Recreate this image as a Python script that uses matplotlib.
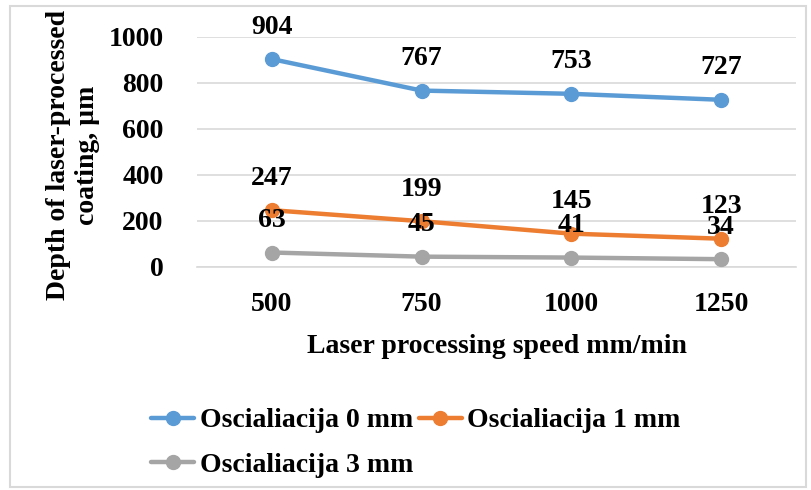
import matplotlib.pyplot as plt
from matplotlib.patches import Rectangle

speeds = ["500", "750", "1000", "1250"]
osc_0mm = [904, 767, 753, 727]
osc_1mm = [247, 199, 145, 123]
osc_3mm = [63, 45, 41, 34]
series_names = ["Oscialiacija 0 mm", "Oscialiacija 1 mm", "Oscialiacija 3 mm"]
colors = ["#5B9BD5", "#ED7D31", "#A5A5A5"]

plt.rcParams["font.family"] = ["Liberation Serif", "DejaVu Serif"]
plt.rcParams["font.weight"] = "bold"
FS = 20

W, H = 812, 490
fig = plt.figure(figsize=(W / 100, H / 100), dpi=100)

# outer frame
fig.patches.append(Rectangle((10 / W, 3 / H), 796 / W, 481 / H, transform=fig.transFigure,
                             fill=False, edgecolor="#D9D9D9", linewidth=1.5))

ax = fig.add_axes([197 / W, 1 - 267 / H, 599 / W, 230 / H])
x = range(len(speeds))
handles = []
for vals, name, c in zip([osc_0mm, osc_1mm, osc_3mm], series_names, colors):
    h, = ax.plot(x, vals, color=c, linewidth=3.2, marker="o", markersize=10, label=name,
                 solid_capstyle="round", zorder=3)
    handles.append(h)
    for xi, v in zip(x, vals):
        ax.annotate(str(v), (xi, v), xytext=(0, 23), textcoords="offset points",
                    ha="center", va="center", fontsize=FS, fontweight="bold", zorder=4)

ax.set_xlim(-0.5, len(speeds) - 0.5)
ax.set_ylim(0, 1000)
ax.set_yticks(range(0, 1001, 200))
ax.set_xticks(list(x))
ax.set_xticklabels(speeds)
ax.grid(axis="y", color="#D9D9D9", linewidth=1.2)
ax.set_axisbelow(True)
for s in ["top", "right", "left"]:
    ax.spines[s].set_visible(False)
ax.spines["bottom"].set_color("#D9D9D9")
ax.spines["bottom"].set_linewidth(1.2)
ax.tick_params(length=0, labelsize=FS)
ax.tick_params(axis="y", pad=24)
ax.tick_params(axis="x", pad=18)
for lbl in ax.get_xticklabels() + ax.get_yticklabels():
    lbl.set_fontweight("bold")

ax.set_xlabel("Laser processing speed mm/min", fontsize=FS, fontweight="bold", labelpad=12)
fig.text(73 / W, 1 - 155 / H, "Depth of laser-processed\ncoating, µm", rotation=90,
         ha="center", va="center", fontsize=FS, fontweight="bold", linespacing=1.2)

# row-major legend: 0 mm, 1 mm on the first row, 3 mm below
order = [0, 2, 1]
fig.legend([handles[i] for i in order], [series_names[i] for i in order],
           loc="upper left", bbox_to_anchor=(126 / W, 1 - 383 / H), ncol=2, frameon=False,
           handlelength=1.55, handletextpad=0.2, columnspacing=0.2,
           labelspacing=0.68, prop={"weight": "bold", "size": FS})

fig.savefig("out.png", dpi=100)
